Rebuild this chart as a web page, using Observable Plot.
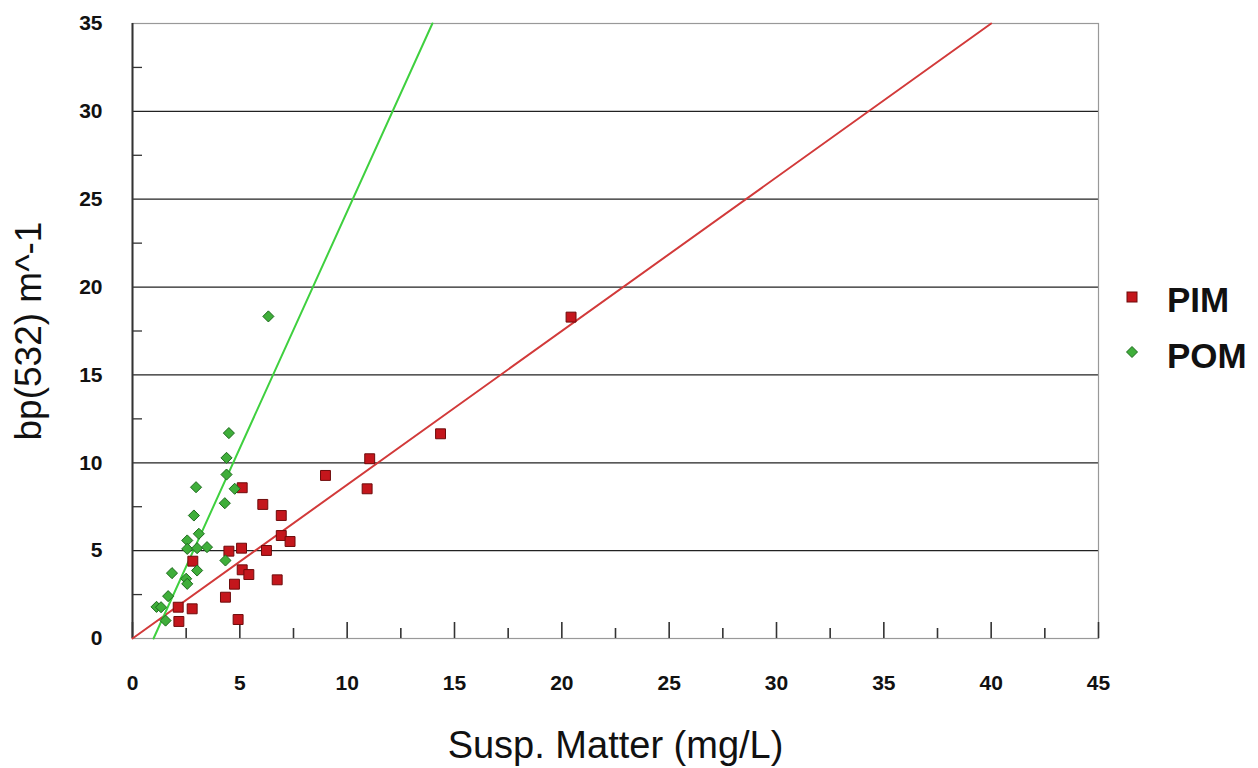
<!DOCTYPE html>
<html>
<head>
<meta charset="utf-8">
<script src="https://cdn.jsdelivr.net/npm/d3@7"></script>
<script src="https://cdn.jsdelivr.net/npm/@observablehq/plot@0.6"></script>
<style>
  body { margin: 0; background: #fff; font-family: "Liberation Sans", Arial, sans-serif; }
  #wrap { position: relative; width: 1258px; height: 768px; overflow: hidden; }
  #legend { position: absolute; left: 1120px; top: 270px; font-weight: bold; font-size: 35px; color: #111; }
  .item { position: absolute; left: 0; white-space: nowrap; }
  .sw { position: absolute; }
  .lab { position: absolute; left: 47px; line-height: 1; }
</style>
</head>
<body>
<div id="wrap"><div id="legend"></div></div>
<script>
// ---- data ----
const pimX = [2.13, 2.16, 2.78, 2.81, 4.33, 4.49, 4.75, 4.92, 5.08, 5.11, 5.11, 5.42, 6.07, 6.24, 6.74, 6.93, 6.93, 7.34, 8.99, 10.93, 11.05, 14.35, 20.43];
const pimY = [1.78, 0.97, 1.69, 4.40, 2.35, 4.97, 3.09, 1.08, 5.14, 8.58, 3.91, 3.64, 7.63, 5.01, 3.34, 7.00, 5.86, 5.52, 9.28, 8.52, 10.23, 11.65, 18.29];

const pomX = [1.12, 1.33, 1.54, 1.66, 1.84, 2.50, 2.55, 2.55, 2.55, 3.01, 3.09, 3.47, 3.01, 4.33, 2.86, 2.96, 4.30, 4.76, 4.38, 4.38, 4.49, 6.33];
const pomY = [1.80, 1.78, 1.02, 2.41, 3.72, 3.40, 3.11, 5.58, 5.10, 5.14, 5.96, 5.20, 3.87, 4.44, 7.00, 8.61, 7.70, 8.52, 9.33, 10.28, 11.69, 18.33];

// fitted trend lines (endpoints)
const pimFitX = [0, 40];
const pimFitY = [0, 35];
const pomFitX = [0.98, 13.97];
const pomFitY = [0, 35];

const xMajor = [0, 5, 10, 15, 20, 25, 30, 35, 40, 45];
const xMinor = [2.5, 7.5, 12.5, 17.5, 22.5, 27.5, 32.5, 37.5, 42.5];
const yMajor = [0, 5, 10, 15, 20, 25, 30, 35];
const yMinor = [2.5, 7.5, 12.5, 17.5, 22.5, 27.5, 32.5];
const yGrid = [5, 10, 15, 20, 25, 30];

const seriesNames = ["PIM", "POM"];
const seriesColors = ["#c4161c", "#3fae3a"];
const seriesStrokes = ["#6e0b0b", "#1d6a1d"];
const lineColors = ["#d23a3a", "#3fd03f"];

const pim = pimX.map((x, i) => ({x, y: pimY[i]}));
const pom = pomX.map((x, i) => ({x, y: pomY[i]}));
const pimFit = pimFitX.map((x, i) => ({x, y: pimFitY[i]}));
const pomFit = pomFitX.map((x, i) => ({x, y: pomFitY[i]}));

const font = "Liberation Sans, Arial, sans-serif";

const W = 1258, H = 768, mL = 132, mR = 160, mT = 23, mB = 130;
const innerW = W - mL - mR, innerH = H - mT - mB;

const chart = Plot.plot({
  width: W,
  height: H,
  marginLeft: mL,
  marginRight: mR,
  marginTop: mT,
  marginBottom: mB,
  style: {fontFamily: font, color: "#111", background: "#fff"},
  x: {domain: [0, 45]},
  y: {domain: [0, 35]},
  marks: [
    Plot.ruleY(yGrid, {stroke: "#222", strokeWidth: 1.2}),
    Plot.frame({stroke: "#999", strokeWidth: 1.2}),
    Plot.ruleX([0], {stroke: "#333", strokeWidth: 2}),
    // inward ticks
    Plot.tickY(yMinor, {y: d => d, insetRight: innerW - 10, stroke: "#333", strokeWidth: 1.3}),
    Plot.tickX(xMajor, {x: d => d, insetTop: innerH - 16, stroke: "#333", strokeWidth: 1.6}),
    Plot.tickX(xMinor, {x: d => d, insetTop: innerH - 10, stroke: "#333", strokeWidth: 1.6}),
    // tick labels
    Plot.axisY({ticks: yMajor, tickSize: 0, tickPadding: 30, label: null, fontSize: 21, fontWeight: "bold"}),
    Plot.axisX({ticks: xMajor, tickSize: 0, tickPadding: 37, label: null, fontSize: 21, fontWeight: "bold"}),
    // axis titles
    Plot.axisY({ticks: [], label: "bp(532) m^-1", labelAnchor: "center", labelArrow: "none", labelOffset: 118, fontSize: 37}),
    Plot.axisX({ticks: [], label: "Susp. Matter (mg/L)", labelAnchor: "center", labelArrow: "none", labelOffset: 119, fontSize: 38}),
    // trend lines
    Plot.line(pimFit, {x: "x", y: "y", stroke: lineColors[0], strokeWidth: 2}),
    Plot.line(pomFit, {x: "x", y: "y", stroke: lineColors[1], strokeWidth: 2}),
    // points
    Plot.dot(pim, {x: "x", y: "y", symbol: "square", r: 5.6, fill: seriesColors[0], stroke: seriesStrokes[0], strokeWidth: 1}),
    Plot.dot(pom, {x: "x", y: "y", symbol: "diamond2", r: 5, fill: seriesColors[1], stroke: seriesStrokes[1], strokeWidth: 1})
  ]
});

const wrap = document.getElementById("wrap");
wrap.insertBefore(chart, wrap.firstChild);

// legend
const legend = document.getElementById("legend");
const legendTops = [0, 56];
seriesNames.forEach((name, i) => {
  const item = document.createElement("div");
  item.className = "item";
  item.style.top = legendTops[i] + "px";
  const sw = document.createElementNS("http://www.w3.org/2000/svg", "svg");
  sw.setAttribute("width", 16);
  sw.setAttribute("height", 16);
  sw.setAttribute("class", "sw");
  sw.style.left = "4px";
  sw.style.top = (i === 0 ? 19 : 18) + "px";
  const shape = document.createElementNS("http://www.w3.org/2000/svg", i === 0 ? "rect" : "path");
  if (i === 0) {
    shape.setAttribute("x", 3); shape.setAttribute("y", 3);
    shape.setAttribute("width", 10); shape.setAttribute("height", 10);
  } else {
    shape.setAttribute("d", "M8,2.5L13.5,8L8,13.5L2.5,8Z");
  }
  shape.setAttribute("fill", seriesColors[i]);
  shape.setAttribute("stroke", seriesStrokes[i]);
  sw.appendChild(shape);
  const lab = document.createElement("div");
  lab.className = "lab";
  lab.style.top = "12px";
  lab.textContent = name;
  item.appendChild(sw);
  item.appendChild(lab);
  legend.appendChild(item);
});
</script>
</body>
</html>
